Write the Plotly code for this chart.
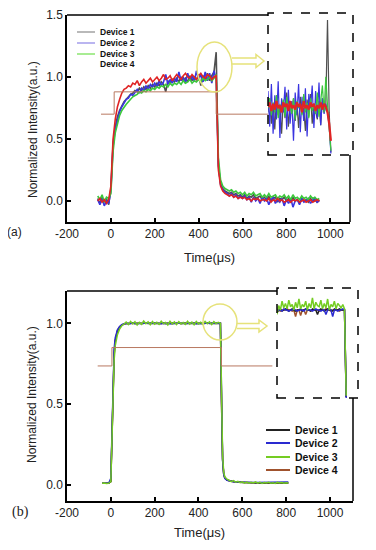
import plotly.graph_objects as go

# page body adds an 8px margin, so the figure occupies 8..376 x 8..550 of the window
OFF = 8
W, H = 376 - OFF, 550 - OFF
def px(x): return (x - OFF) / W
def py(y): return 1 - (y - OFF) / H

# ---------------- Panel (a) data ----------------
t_a = [-60,-50,-40,-30,-20,-10,0,10,20,30,40,50,60,70,80,90,100,110,120,130,140,150,160,170,180,190,
       200,210,220,230,240,250,260,270,280,290,300,310,320,330,340,350,360,370,380,390,400,410,420,430,
       440,450,460,470,480,490,500,510,520,530,540,550,560,570,580,590,600,610,620,630,640,650,660,670,
       680,690,700,710,720,730,740,750,760,770,780,790,800,810,820,830,840,850,860,870,880,890,900,910,
       920,930,940,950]
a_dev1 = [0.02,-0.02,0.03,-0.01,0.02,-0.03,
          0.10,0.46,0.60,0.68,0.73,0.77,0.80,0.82,0.84,0.86,
          0.87,0.89,0.88,0.91,0.89,0.92,0.90,0.93,0.91,0.94,
          0.92,0.95,0.93,0.96,0.94,0.88,0.97,0.95,0.98,0.96,
          0.99,0.96,1.00,0.97,0.99,0.96,1.01,0.97,1.00,0.98,
          1.02,0.93,1.01,0.98,1.03,0.97,1.01,1.04,
          1.20,
          0.28,0.14,0.10,0.08,0.07,0.06,0.07,0.05,0.06,0.04,0.05,
          0.03,0.05,0.02,0.04,0.03,0.05,0.02,0.03,0.04,0.01,
          0.03,0.01,0.04,0.00,0.02,0.03,-0.01,0.02,0.01,0.03,
          0.00,0.02,-0.01,0.03,0.00,0.01,-0.02,0.02,0.00,0.01,
          -0.01,0.02,0.00,0.01,-0.01,0.01]
a_dev2 = [0.01,-0.03,0.02,-0.04,0.00,-0.02,
          0.08,0.44,0.58,0.66,0.72,0.76,0.79,0.82,0.83,0.86,
          0.85,0.88,0.90,0.87,0.91,0.89,0.93,0.90,0.94,0.92,
          0.95,0.92,0.97,0.93,0.96,1.02,0.94,0.98,0.95,0.99,
          0.96,1.04,0.97,1.00,0.95,1.03,0.97,1.01,0.96,1.05,
          0.98,1.02,0.96,1.04,0.97,1.03,0.95,1.05,
          0.98,
          0.30,0.13,0.09,0.07,0.06,0.04,0.06,0.03,0.05,0.02,0.04,
          0.02,0.04,0.01,0.03,-0.01,0.03,0.00,0.02,-0.02,0.03,
          0.00,0.02,-0.03,0.01,0.03,-0.02,0.01,-0.01,0.02,-0.04,
          0.01,-0.02,0.02,-0.05,0.00,0.01,-0.03,0.02,-0.01,0.00,
          0.02,-0.02,0.01,0.03,-0.01,0.00]
a_dev3 = [0.04,0.01,0.05,-0.01,0.03,0.02,
          0.06,0.40,0.55,0.63,0.69,0.73,0.76,0.78,0.80,0.82,
          0.84,0.85,0.86,0.88,0.87,0.89,0.88,0.90,0.89,0.91,
          0.90,0.92,0.91,0.93,0.92,0.94,0.92,0.95,0.93,0.95,
          0.94,0.96,0.94,0.97,0.95,0.96,0.98,0.95,0.97,0.96,
          0.98,0.96,0.99,0.97,0.98,1.00,0.97,0.99,
          1.02,
          0.35,0.17,0.12,0.10,0.09,0.08,0.09,0.07,0.08,0.06,0.07,
          0.05,0.07,0.04,0.06,0.05,0.07,0.04,0.05,0.06,0.03,
          0.05,0.03,0.06,0.03,0.04,0.05,0.02,0.04,0.03,0.05,
          0.02,0.04,0.01,0.05,0.02,0.03,0.01,0.04,0.02,0.03,
          0.01,0.04,0.02,0.03,0.01,0.02]
a_dev4 = [0.00,0.02,-0.01,0.01,-0.02,0.01,
          0.12,0.50,0.66,0.76,0.82,0.87,0.90,0.91,0.93,0.92,
          0.95,0.94,0.97,0.93,0.96,0.98,0.95,0.97,0.99,0.96,
          0.98,1.00,0.97,0.99,1.02,0.98,0.99,1.01,0.97,1.00,
          1.02,1.00,0.98,1.01,1.03,1.00,0.99,1.02,1.00,0.98,
          1.01,1.03,1.00,0.99,1.02,1.01,0.98,1.00,
          1.01,
          0.25,0.12,0.08,0.06,0.05,0.04,0.05,0.03,0.04,0.02,0.03,
          0.02,0.03,0.01,0.02,0.00,0.02,0.01,0.02,0.00,0.01,
          0.01,0.00,0.02,-0.01,0.01,0.00,0.02,0.00,0.01,-0.01,
          0.00,0.01,-0.01,0.01,0.00,0.01,-0.01,0.00,0.01,-0.01,
          0.00,0.01,-0.01,0.00,0.01,0.00]
pulse_a_t = [-45, 15, 15, 480, 480, 722]
pulse_a_v = [0.70, 0.70, 0.88, 0.88, 0.70, 0.70]

inset_a_x = [0,1,2,3,4,5,6,7,8,9,10,11,12,13,14,15,16,17,18,19,20,21,22,23,24,25,26,27,28,29,30,31,32,33,34,35,36,37]
inset_a_dev1 = [0.30,0.40,0.22,0.36,0.18,0.42,0.28,0.34,0.15,0.38,0.26,0.44,0.20,0.35,0.30,0.40,0.24,0.37,0.19,
                0.41,0.29,0.33,0.17,0.39,0.27,0.43,0.22,0.36,0.31,0.25,0.38,0.21,0.40,0.30,0.35,0.95,0.30,0.02]
inset_a_dev2 = [0.45,0.20,0.50,0.15,0.42,0.25,0.52,0.12,0.40,0.30,0.48,0.18,0.46,0.22,0.38,0.10,0.44,0.28,0.50,
                0.16,0.41,0.24,0.47,0.13,0.43,0.33,0.49,0.19,0.45,0.26,0.51,0.21,0.40,0.29,0.36,0.30,0.20,0.01]
inset_a_dev3 = [0.33,0.40,0.28,0.37,0.30,0.42,0.26,0.36,0.31,0.39,0.27,0.41,0.32,0.35,0.29,0.40,0.25,0.38,0.33,
                0.36,0.28,0.43,0.30,0.37,0.26,0.40,0.31,0.35,0.29,0.44,0.27,0.38,0.49,0.30,0.55,0.35,0.20,0.03]
inset_a_dev4 = [0.34,0.37,0.31,0.36,0.32,0.38,0.33,0.35,0.30,0.37,0.34,0.36,0.31,0.38,0.33,0.35,0.32,0.37,0.34,
                0.36,0.30,0.38,0.33,0.35,0.32,0.37,0.34,0.36,0.31,0.35,0.33,0.37,0.32,0.36,0.34,0.30,0.22,0.10]

# ---------------- Panel (b) data ----------------
t_b = [-40,-30,-20,-10,0,5,10,15,20,25,30,40,50,60,70,80,90,100,110,120,130,140,150,160,170,180,190,200,
       210,220,230,240,250,260,270,280,290,300,310,320,330,340,350,360,370,380,390,400,410,420,430,440,450,
       460,470,480,490,500,505,510,515,520,530,540,550,560,570,580,590,600,610,620,630,640,650,660,670,680,
       690,700,710,720,730,740,750,760,770,780,790,800,810]
b_dev1 = [0.01,0.01,0.01,0.01,0.02,0.30,0.62,0.80,0.89,0.93,0.95,
          0.975,0.99,0.995,1.0,0.998,1.0,1.002,0.998,1.0,1.001,0.997,1.0,1.002,0.999,1.0,0.998,1.001,1.0,0.997,
          1.0,1.002,0.999,1.0,0.998,1.001,1.0,0.999,1.002,0.998,1.0,1.001,0.999,1.0,0.998,1.002,1.0,0.999,1.001,
          0.998,1.0,1.002,0.999,1.0,1.001,0.999,1.0,
          1.0,0.52,0.16,0.07,0.045,
          0.03,0.025,0.022,0.02,0.018,0.017,0.016,0.015,0.015,0.014,0.014,0.013,0.013,0.013,0.012,0.012,0.012,
          0.012,0.011,0.011,0.011,0.011,0.011,0.011,0.011,0.011,0.011,0.011,0.011]
b_dev2 = [0.01,0.01,0.01,0.01,0.04,0.38,0.68,0.84,0.91,0.94,0.96,
          0.98,0.992,0.997,1.0,1.001,0.999,1.0,1.002,0.998,1.0,0.999,1.001,1.0,0.998,1.0,1.002,0.999,1.0,1.001,
          0.998,1.0,0.999,1.002,1.0,0.998,1.001,1.0,0.999,1.0,1.002,0.998,1.0,1.001,0.999,1.0,0.998,1.001,1.0,
          0.999,1.002,1.0,0.998,1.0,1.001,0.999,1.0,
          1.0,0.50,0.15,0.065,0.04,
          0.028,0.024,0.021,0.019,0.018,0.017,0.016,0.016,0.015,0.015,0.015,0.014,0.014,0.014,0.014,0.014,0.015,
          0.015,0.015,0.015,0.016,0.016,0.016,0.016,0.016,0.017,0.017,0.017,0.017]
b_dev3 = [0.01,0.012,0.008,0.01,0.02,0.28,0.58,0.77,0.86,0.91,0.93,
          0.965,0.985,0.995,1.008,0.992,1.012,0.996,1.01,0.99,1.006,0.994,1.014,0.997,1.009,0.991,1.011,0.995,
          1.007,0.993,1.013,0.998,1.005,0.99,1.012,0.996,1.009,0.992,1.01,0.997,1.006,0.993,1.013,0.995,1.008,
          0.991,1.011,0.996,1.007,0.994,1.012,0.997,1.009,0.992,1.01,0.998,1.006,
          1.0,0.54,0.18,0.08,0.05,
          0.035,0.028,0.02,0.026,0.016,0.022,0.013,0.019,0.011,0.017,0.01,0.016,0.012,0.018,0.01,0.015,0.009,
          0.014,0.011,0.016,0.01,0.013,0.009,0.015,0.011,0.014,0.01,0.013,0.012]
b_dev4 = [0.01,0.01,0.01,0.01,0.02,0.32,0.63,0.81,0.89,0.93,0.955,
          0.978,0.99,0.996,0.999,1.0,1.0,0.999,1.0,1.001,1.0,0.999,1.0,1.0,1.001,0.999,1.0,1.0,0.999,1.0,1.001,
          1.0,0.999,1.0,1.0,1.001,0.999,1.0,1.0,0.999,1.001,1.0,1.0,0.999,1.0,1.001,1.0,0.999,1.0,1.0,1.001,
          0.999,1.0,1.0,0.999,1.0,1.0,
          1.0,0.51,0.155,0.068,0.042,
          0.03,0.025,0.021,0.019,0.017,0.016,0.015,0.014,0.014,0.013,0.013,0.012,0.012,0.012,0.012,0.011,0.011,
          0.011,0.011,0.011,0.011,0.011,0.011,0.011,0.011,0.011,0.011,0.011,0.011]
pulse_b_t = [-60, 5, 5, 505, 505, 737]
pulse_b_v = [0.736, 0.736, 0.85, 0.85, 0.736, 0.736]

inset_b_x = [0,1,2,3,4,5,6,7,8,9,10,11,12,13,14,15,16,17,18,19,20,21,22,23,24,25,26,27,28,29,30,31,32,33,34,35,
             36,37,38,39,40,41]
inset_b_dev1 = [0.78,0.80,0.81,0.79,0.80,0.81,0.80,0.79,0.80,0.81,0.80,0.79,0.80,0.80,0.81,0.79,0.80,0.81,0.80,0.80,
                0.79,0.81,0.80,0.80,0.76,0.80,0.81,0.80,0.79,0.80,0.81,0.80,0.80,0.79,0.81,0.80,0.80,0.81,0.80,0.80,
                0.80,0.01]
inset_b_dev2 = [0.79,0.80,0.80,0.79,0.81,0.80,0.80,0.79,0.80,0.80,0.81,0.80,0.79,0.80,0.80,0.80,0.79,0.81,0.80,0.80,
                0.80,0.79,0.80,0.81,0.80,0.80,0.79,0.80,0.80,0.76,0.80,0.81,0.80,0.74,0.80,0.80,0.79,0.80,0.80,0.81,
                0.80,0.00]
inset_b_dev3 = [0.76,0.84,0.80,0.88,0.82,0.86,0.81,0.89,0.83,0.85,0.80,0.87,0.82,0.90,0.81,0.85,0.83,0.88,0.80,0.86,
                0.82,0.91,0.81,0.87,0.84,0.83,0.89,0.81,0.86,0.82,0.90,0.80,0.85,0.83,0.88,0.81,0.86,0.84,0.82,0.85,
                0.81,0.02]
inset_b_dev4 = [0.80,0.80,0.79,0.80,0.80,0.80,0.81,0.80,0.80,0.79,0.80,0.74,0.80,0.80,0.75,0.80,0.80,0.76,0.80,0.80,
                0.79,0.80,0.80,0.80,0.80,0.79,0.80,0.80,0.80,0.81,0.80,0.80,0.79,0.80,0.80,0.80,0.80,0.79,0.80,0.80,
                0.80,0.01]

x_ticks = [-200, 0, 200, 400, 600, 800, 1000]
x_tick_text = ["-200", "0", "200", "400", "600", "800", "1000"]
ya_ticks = [0.0, 0.5, 1.0, 1.5]
yb_ticks = [0.0, 0.5, 1.0]
legend_labels = ["Device 1", "Device 2", "Device 3", "Device 4"]

# colours
ca = ["#505050", "#3a34e0", "#3cc83c", "#e02424"]
cb = ["#222222", "#2a2ad0", "#74cc22", "#a0522d"]
pulse_col = "#b87860"
yel = "#e6e27a"

fig = go.Figure()

# panel (a) main
for ys, c in zip([a_dev1, a_dev2, a_dev3, a_dev4], ca):
    fig.add_trace(go.Scatter(x=t_a, y=ys, mode="lines", line=dict(color=c, width=1.6),
                             xaxis="x", yaxis="y", showlegend=False))
fig.add_trace(go.Scatter(x=pulse_a_t, y=pulse_a_v, mode="lines", line=dict(color=pulse_col, width=1),
                         xaxis="x", yaxis="y", showlegend=False))
# panel (a) inset
for ys, c, w in zip([inset_a_dev1, inset_a_dev2, inset_a_dev3, inset_a_dev4], ca, [1.2, 1.2, 1.2, 2.2]):
    fig.add_trace(go.Scatter(x=inset_a_x, y=ys, mode="lines", line=dict(color=c, width=w),
                             xaxis="x3", yaxis="y3", showlegend=False))

# panel (b) main
for i in [3, 0, 1, 2]:
    ys = [b_dev1, b_dev2, b_dev3, b_dev4][i]
    fig.add_trace(go.Scatter(x=t_b, y=ys, mode="lines", line=dict(color=cb[i], width=1.5),
                             xaxis="x2", yaxis="y2", showlegend=False))
fig.add_trace(go.Scatter(x=pulse_b_t, y=pulse_b_v, mode="lines", line=dict(color=pulse_col, width=1),
                         xaxis="x2", yaxis="y2", showlegend=False))
# panel (b) inset
for i in [3, 0, 1, 2]:
    ys = [inset_b_dev1, inset_b_dev2, inset_b_dev3, inset_b_dev4][i]
    fig.add_trace(go.Scatter(x=inset_b_x, y=ys, mode="lines", line=dict(color=cb[i], width=1.5),
                             xaxis="x4", yaxis="y4", showlegend=False))

tickfont = dict(family="Arial, Liberation Sans", size=12, color="#222")
common_x = dict(showline=True, linecolor="black", linewidth=1.5, ticks="inside", ticklen=4,
                tickwidth=1.5, tickcolor="black", showgrid=False, zeroline=False,
                tickvals=x_ticks, ticktext=x_tick_text, tickfont=tickfont)
common_y = dict(showline=True, linecolor="black", linewidth=1.5, ticks="inside", ticklen=4,
                tickwidth=1.5, tickcolor="black", showgrid=False, zeroline=False,
                tickformat=".1f", tickfont=tickfont)
hidden = dict(visible=False, showgrid=False, zeroline=False, fixedrange=True)

fig.update_layout(
    template="none", width=W, height=H, autosize=False,
    margin=dict(l=0, r=0, t=0, b=0), paper_bgcolor="white", plot_bgcolor="white",
    xaxis=dict(domain=[px(67), px(350)], range=[-200, 1090], anchor="y", **common_x),
    yaxis=dict(domain=[py(222), py(15)], range=[-0.17, 1.5], anchor="x", tickvals=ya_ticks, **common_y),
    xaxis2=dict(domain=[px(67), px(353)], range=[-200, 1105], anchor="y2", **common_x),
    yaxis2=dict(domain=[py(501), py(291)], range=[-0.1, 1.2], anchor="x2", tickvals=yb_ticks, **common_y),
    xaxis3=dict(domain=[px(268), px(353)], range=[0, 50], anchor="y3", **hidden),
    yaxis3=dict(domain=[py(155), py(13)], range=[0, 1], anchor="x3", **hidden),
    xaxis4=dict(domain=[px(277), px(358)], range=[0, 48], anchor="y4", **hidden),
    yaxis4=dict(domain=[py(398), py(288)], range=[0, 1], anchor="x4", **hidden),
)

shapes = []
def pline(x0, y0, x1, y1, color="black", width=1.5, dash="solid"):
    shapes.append(dict(type="line", xref="paper", yref="paper", x0=px(x0), y0=py(y0), x1=px(x1), y1=py(y1),
                       line=dict(color=color, width=width, dash=dash)))

# partial frame lines
pline(67, 15, 268, 15)
pline(350, 155, 350, 222)
pline(67, 291, 277, 291)
pline(353, 398, 353, 501)
# inset dashed boxes
for (x0, y0, x1, y1) in [(268, 13, 353, 155), (277, 288, 358, 398)]:
    shapes.append(dict(type="rect", xref="paper", yref="paper", x0=px(x0), y0=py(y1), x1=px(x1), y1=py(y0),
                       line=dict(color="black", width=1.5, dash="dash")))
# yellow ellipses
for (x0, y0, x1, y1) in [(197, 42, 232, 92), (203, 304, 237, 340)]:
    shapes.append(dict(type="circle", xref="paper", yref="paper", x0=px(x0), y0=py(y1), x1=px(x1), y1=py(y0),
                       line=dict(color=yel, width=1.5)))
# hollow arrows
def arrow(xs, xh, xt, yc, hs, hh):
    pts = [(xs, yc - hs), (xh, yc - hs), (xh, yc - hh), (xt, yc), (xh, yc + hh), (xh, yc + hs), (xs, yc + hs)]
    path = "M " + " L ".join(f"{px(a):.5f},{py(b):.5f}" for a, b in pts)
    shapes.append(dict(type="path", xref="paper", yref="paper", path=path, line=dict(color=yel, width=1.5)))
arrow(232, 256, 264, 61, 3, 6.5)
arrow(237, 259, 267, 326, 2.5, 6)

# legend lines
leg_a_cols = ["#8a8a8a", "#8c84e6", "#6ee04a", None]
leg_a_y = [32, 43, 54, 64]
for c, y in zip(leg_a_cols, leg_a_y):
    if c:
        pline(77, y, 95, y, color=c, width=1.2)
leg_b_y = [430, 443, 457, 470]
for c, y in zip(cb, leg_b_y):
    pline(266, y, 290, y, color=c, width=2)

annotations = []
for lab, y in zip(legend_labels, leg_a_y):
    annotations.append(dict(x=px(98), y=py(y), xref="paper", yref="paper", text=lab, showarrow=False,
                            xanchor="left", yanchor="middle",
                            font=dict(family="Arial, Liberation Sans", size=8.5, color="#111", weight="bold")))
for lab, y in zip(legend_labels, leg_b_y):
    annotations.append(dict(x=px(293), y=py(y), xref="paper", yref="paper", text=lab, showarrow=False,
                            xanchor="left", yanchor="middle",
                            font=dict(family="Arial, Liberation Sans", size=10.5, color="#111", weight="bold")))
tfont = dict(family="Arial, Liberation Sans", size=12, color="#222")
annotations += [
    dict(x=px(33), y=py(130), xref="paper", yref="paper", text="Normalized Intensity(a.u.)", textangle=-90,
         showarrow=False, xanchor="center", yanchor="middle", font=tfont),
    dict(x=px(32), y=py(395), xref="paper", yref="paper", text="Normalized Intensity(a.u.)", textangle=-90,
         showarrow=False, xanchor="center", yanchor="middle", font=tfont),
    dict(x=px(209), y=py(258), xref="paper", yref="paper", text="Time(μs)", showarrow=False,
         xanchor="center", yanchor="middle", font=dict(family="Arial, Liberation Sans", size=13, color="#222")),
    dict(x=px(199), y=py(532), xref="paper", yref="paper", text="Time(μs)", showarrow=False,
         xanchor="center", yanchor="middle", font=dict(family="Arial, Liberation Sans", size=13, color="#222")),
    dict(x=px(14), y=py(232), xref="paper", yref="paper", text="(a)", showarrow=False,
         xanchor="center", yanchor="middle", font=dict(family="Arial, Liberation Sans", size=12, color="#222")),
    dict(x=px(20), y=py(512), xref="paper", yref="paper", text="(b)", showarrow=False,
         xanchor="center", yanchor="middle", font=dict(family="Liberation Serif, Times New Roman", size=14, color="#222")),
]
fig.update_layout(shapes=shapes, annotations=annotations)

fig.write_html("out.html")
